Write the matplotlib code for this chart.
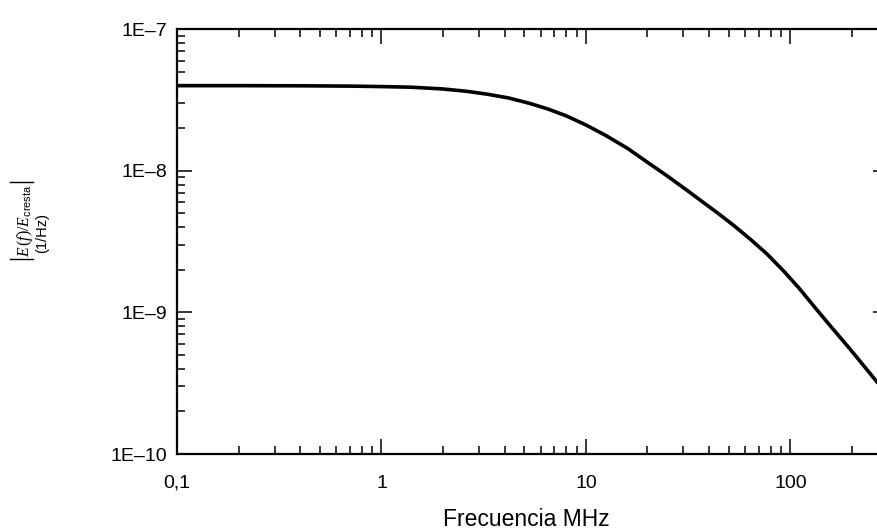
import matplotlib
matplotlib.use('Agg')
import matplotlib.pyplot as plt
import matplotlib.ticker as plticker
from matplotlib.lines import Line2D

plt.rcParams['font.family'] = ['Liberation Sans', 'DejaVu Sans']
plt.rcParams['mathtext.fontset'] = 'custom'
plt.rcParams['mathtext.rm'] = 'Liberation Serif'
plt.rcParams['mathtext.it'] = 'Liberation Serif:italic'
plt.rcParams['mathtext.bf'] = 'Liberation Serif:bold'
plt.rcParams['mathtext.sf'] = 'Liberation Sans'

# spectrum (MHz, 1/Hz)
freq_mhz = [0.1, 0.2, 0.4, 0.7, 1.0, 1.4, 2.0, 2.6, 3.3, 4.2, 5.3, 6.5, 8.0, 10,
            12.5, 16, 20, 25, 32, 38, 44, 53, 64, 77, 93, 110, 135, 160, 196,
            230, 265, 285]
spectrum = [4.0e-8, 4.0e-8, 3.99e-8, 3.97e-8, 3.94e-8, 3.9e-8, 3.79e-8, 3.65e-8,
            3.48e-8, 3.27e-8, 3.0e-8, 2.74e-8, 2.45e-8, 2.11e-8, 1.78e-8, 1.44e-8,
            1.15e-8, 9.2e-9, 7.1e-9, 5.9e-9, 5.05e-9, 4.1e-9, 3.27e-9, 2.58e-9,
            1.95e-9, 1.49e-9, 1.04e-9, 7.76e-10, 5.5e-10, 4.15e-10, 3.23e-10,
            2.83e-10]

x_ticks = [0.1, 1, 10, 100]
x_tick_labels = ['0,1', '1', '10', '100']
y_ticks = [1e-10, 1e-9, 1e-8, 1e-7]
y_tick_labels = ['1E\u201310', '1E\u20139', '1E\u20138', '1E\u20137']


def plot_spectrum():
    fig = plt.figure(figsize=(8.77, 5.32), dpi=100)
    # right edge of the frame sits just outside the picture, as in the original
    ax = fig.add_axes([0.2018, 0.1466, 0.8107, 0.7983])
    ax.plot(freq_mhz, spectrum, color='black', lw=2.6, solid_capstyle='butt',
            solid_joinstyle='round')
    ax.set_xscale('log')
    ax.set_yscale('log')
    ax.set_xlim(0.1, 300)
    ax.set_ylim(1e-10, 1e-7)

    ax.xaxis.set_major_locator(plticker.FixedLocator(x_ticks))
    ax.xaxis.set_major_formatter(plticker.FixedFormatter(x_tick_labels))
    ax.yaxis.set_major_locator(plticker.FixedLocator(y_ticks))
    ax.yaxis.set_major_formatter(plticker.FixedFormatter(y_tick_labels))
    ax.xaxis.set_minor_locator(plticker.LogLocator(base=10, subs=range(2, 10), numticks=20))
    ax.yaxis.set_minor_locator(plticker.LogLocator(base=10, subs=range(2, 10), numticks=20))
    ax.xaxis.set_minor_formatter(plticker.NullFormatter())
    ax.yaxis.set_minor_formatter(plticker.NullFormatter())

    ax.tick_params(which='both', direction='in', top=True, right=True, width=1.1, colors='black')
    ax.tick_params(which='major', length=11, labelsize=14)
    ax.tick_params(which='minor', length=5.8)
    ax.tick_params(axis='x', which='major', pad=15)
    ax.tick_params(axis='y', which='major', pad=7)
    for spine in ax.spines.values():
        spine.set_linewidth(1.6)

    ax.set_xlabel('Frecuencia MHz', fontsize=16.5)
    ax.xaxis.set_label_coords(0.492, -0.128)

    # two-line y label; the absolute-value bars are drawn taller than the text
    fig.text(0.0285, 0.5846, r'$E\,(f)/E_{\mathsf{cresta}}$',
             rotation=90, ha='center', va='center', fontsize=11.3)
    for y in (0.6579, 0.5132):
        fig.add_artist(Line2D([0.0114, 0.0376], [y, y], transform=fig.transFigure,
                              color='black', lw=1.0))
    fig.text(0.0485, 0.5611, '(1/Hz)', rotation=90, ha='center', va='center',
             fontsize=10.5)

    fig.savefig('out.png', dpi=100)


if __name__ == '__main__':
    plot_spectrum()
